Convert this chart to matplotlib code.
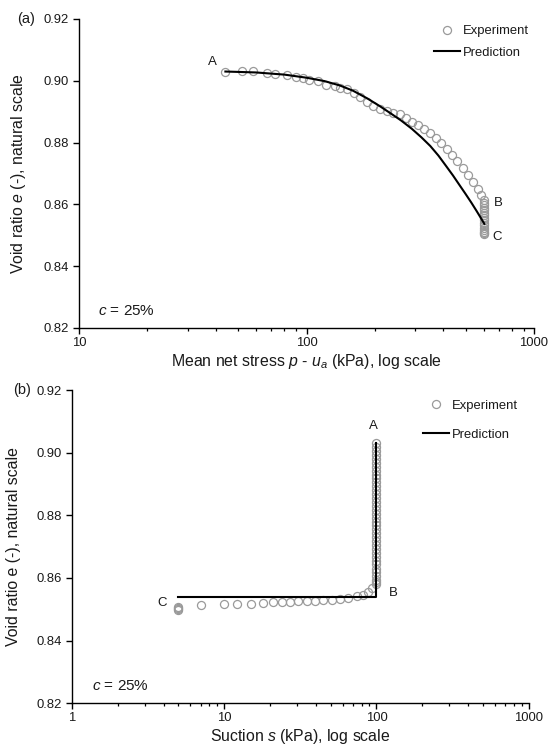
import matplotlib
matplotlib.use("Agg")
import matplotlib.pyplot as plt

plt.rcParams['font.family'] = ['Liberation Sans', 'DejaVu Sans']
plt.rcParams['mathtext.fontset'] = 'custom'
plt.rcParams['mathtext.rm'] = 'Liberation Sans'
plt.rcParams['mathtext.it'] = 'Liberation Sans:italic'

# ---------------- data: panel (a) ----------------
p_exp = [44, 52, 58, 67, 73, 82, 90, 97, 103, 112, 122, 133, 140, 150, 161, 172,
         184, 197, 211, 225, 241, 258, 275, 292, 310, 329, 349, 370, 391, 413,
         436, 460, 489, 515, 540, 565, 585, 600,
         605, 605, 605, 605, 605, 605, 605, 605, 605, 605, 605, 605, 605, 605, 605]
e_exp_a = [0.9030, 0.9032, 0.9032, 0.9026, 0.9023, 0.9018, 0.9013, 0.9008, 0.9004,
           0.9000, 0.8987, 0.8983, 0.8978, 0.8972, 0.8961, 0.8946, 0.8931, 0.8919,
           0.8909, 0.8902, 0.8897, 0.8892, 0.8880, 0.8868, 0.8858, 0.8845, 0.8830,
           0.8815, 0.8798, 0.8780, 0.8760, 0.8740, 0.8718, 0.8695, 0.8672, 0.8650,
           0.8630, 0.8615,
           0.8605, 0.8597, 0.8589, 0.8581, 0.8573, 0.8565, 0.8557, 0.8549, 0.8541,
           0.8533, 0.8525, 0.8518, 0.8512, 0.8507, 0.8503]
p_pred = [44, 60, 80, 100, 120, 140, 160, 185, 210, 235, 260, 290, 320, 350, 380,
          410, 440, 470, 500, 530, 560, 585, 605]
e_pred_a = [0.9030, 0.9027, 0.9020, 0.9010, 0.8999, 0.8985, 0.8968, 0.8943, 0.8918,
            0.8894, 0.8872, 0.8845, 0.8817, 0.8789, 0.8758, 0.8725, 0.8694, 0.8663,
            0.8634, 0.8606, 0.8578, 0.8555, 0.8537]

# ---------------- data: panel (b) ----------------
# drying path C->B (suction from 5 to ~95 kPa)
s_exp_path = [5, 5, 5, 5, 7, 10, 12.2, 15, 18, 21, 24, 27, 30.7, 34.8, 39.5, 44.8,
              50.8, 57.7, 65.4, 74.2, 82, 88.5, 93]
e_exp_path = [0.8508, 0.8505, 0.8502, 0.8499, 0.8515, 0.8516, 0.8517, 0.8517, 0.8519,
              0.8522, 0.8523, 0.8524, 0.8526, 0.8527, 0.8528, 0.8530, 0.8531, 0.8533,
              0.8536, 0.8541, 0.8546, 0.8556, 0.8568]
# loading path A->B at constant suction 100 kPa
s_exp_stack = [100] * 38
e_exp_stack = [0.9030, 0.9018, 0.9005, 0.8993, 0.8980, 0.8968, 0.8955, 0.8943, 0.8930,
               0.8918, 0.8905, 0.8893, 0.8880, 0.8868, 0.8855, 0.8843, 0.8830, 0.8818,
               0.8805, 0.8793, 0.8780, 0.8768, 0.8755, 0.8743, 0.8730, 0.8718, 0.8705,
               0.8693, 0.8680, 0.8668, 0.8655, 0.8643, 0.8630, 0.8618, 0.8605, 0.8595,
               0.8587, 0.8580]
s_pred = [5, 100, 100]
e_pred_b = [0.8538, 0.8538, 0.9030]

xticks_a = [10, 100, 1000]
xticks_b = [1, 10, 100, 1000]
xticklabels_a = ['10', '100', '1000']
xticklabels_b = ['1', '10', '100', '1000']
yticks = [0.82, 0.84, 0.86, 0.88, 0.90, 0.92]
yticklabels = ['0.82', '0.84', '0.86', '0.88', '0.90', '0.92']

TXT = '#1a1a1a'
GRAY = '#9a9a9a'

fig = plt.figure(figsize=(5.49, 7.48), dpi=100)
axa = fig.add_axes([0.1439, 0.5615, 0.8288, 0.4131])
axb = fig.add_axes([0.1311, 0.0598, 0.8319, 0.4188])


def style(ax, xt, xtl):
    ax.set_xscale('log')
    ax.set_ylim(0.82, 0.92)
    ax.set_xlim(xt[0], xt[-1])
    ax.set_xticks(xt)
    ax.set_xticklabels(xtl)
    ax.set_yticks(yticks)
    ax.set_yticklabels(yticklabels)
    ax.minorticks_on()
    ax.yaxis.set_minor_locator(matplotlib.ticker.NullLocator())
    ax.xaxis.set_minor_formatter(matplotlib.ticker.NullFormatter())
    for sp in ['top', 'right']:
        ax.spines[sp].set_visible(False)
    for sp in ['left', 'bottom']:
        ax.spines[sp].set_linewidth(1.0)
        ax.spines[sp].set_color('black')
    ax.tick_params(axis='both', which='major', direction='out', length=4.5,
                   width=1.0, labelsize=9.4, labelcolor=TXT)
    ax.tick_params(axis='x', which='major', pad=2)
    ax.tick_params(axis='y', which='major', pad=3)
    ax.tick_params(axis='x', which='minor', direction='out', length=2.2, width=0.9)


# ----- panel (a)
axa.plot(p_exp, e_exp_a, 'o', ms=5.8, mfc='none', mec=GRAY, mew=0.9,
         label='Experiment', zorder=2)
axa.plot(p_pred, e_pred_a, '-', color='black', lw=1.5, label='Prediction', zorder=3)
style(axa, xticks_a, xticklabels_a)
axa.set_xlabel('Mean net stress $p$ - $u_a$ (kPa), log scale', fontsize=11.4,
               color=TXT, labelpad=2)
axa.set_ylabel('Void ratio $e$ (-), natural scale', fontsize=11.4, color=TXT,
               labelpad=11)
axa.text(38.7, 0.9062, 'A', fontsize=9.5, color=TXT, ha='center', va='center')
axa.text(697, 0.8605, 'B', fontsize=9.5, color=TXT, ha='center', va='center')
axa.text(686, 0.8493, 'C', fontsize=9.5, color=TXT, ha='center', va='center')
axa.text(0.042, 0.056, '$c$ = 25%', transform=axa.transAxes, fontsize=11,
         color=TXT, ha='left', va='center')
fig.text(17 / 549, 1 - 18.5 / 748, '(a)', fontsize=10.5, color=TXT,
         ha='left', va='center')
axa.legend(loc='upper left', bbox_to_anchor=(0.781, 0.98), frameon=False,
           fontsize=9.4, handlelength=2.0, handletextpad=0.2, labelspacing=0.7,
           borderpad=0, borderaxespad=0, labelcolor=TXT)

# ----- panel (b)
axb.plot(s_exp_path + s_exp_stack, e_exp_path + e_exp_stack, 'o', ms=5.8,
         mfc='none', mec=GRAY, mew=0.9, label='Experiment', zorder=2)
axb.plot(s_pred, e_pred_b, '-', color='black', lw=1.5, label='Prediction', zorder=3)
style(axb, xticks_b, xticklabels_b)
axb.set_xlabel('Suction $s$ (kPa), log scale', fontsize=11.4, color=TXT, labelpad=2)
axb.set_ylabel('Void ratio e (-), natural scale', fontsize=11.4, color=TXT,
               labelpad=11)
axb.text(95.5, 0.9085, 'A', fontsize=9.5, color=TXT, ha='center', va='center')
axb.text(129, 0.8553, 'B', fontsize=9.5, color=TXT, ha='center', va='center')
axb.text(3.9, 0.8521, 'C', fontsize=9.5, color=TXT, ha='center', va='center')
axb.text(0.043, 0.056, '$c$ = 25%', transform=axb.transAxes, fontsize=11,
         color=TXT, ha='left', va='center')
fig.text(12.7 / 549, 1 - 390 / 748, '(b)', fontsize=10.5, color=TXT,
         ha='left', va='center')
axb.legend(loc='upper left', bbox_to_anchor=(0.768, 0.969), frameon=False,
           fontsize=9.4, handlelength=2.0, handletextpad=0.2, labelspacing=1.3,
           borderpad=0, borderaxespad=0, labelcolor=TXT)

fig.savefig('out.png', dpi=100, facecolor='white')
